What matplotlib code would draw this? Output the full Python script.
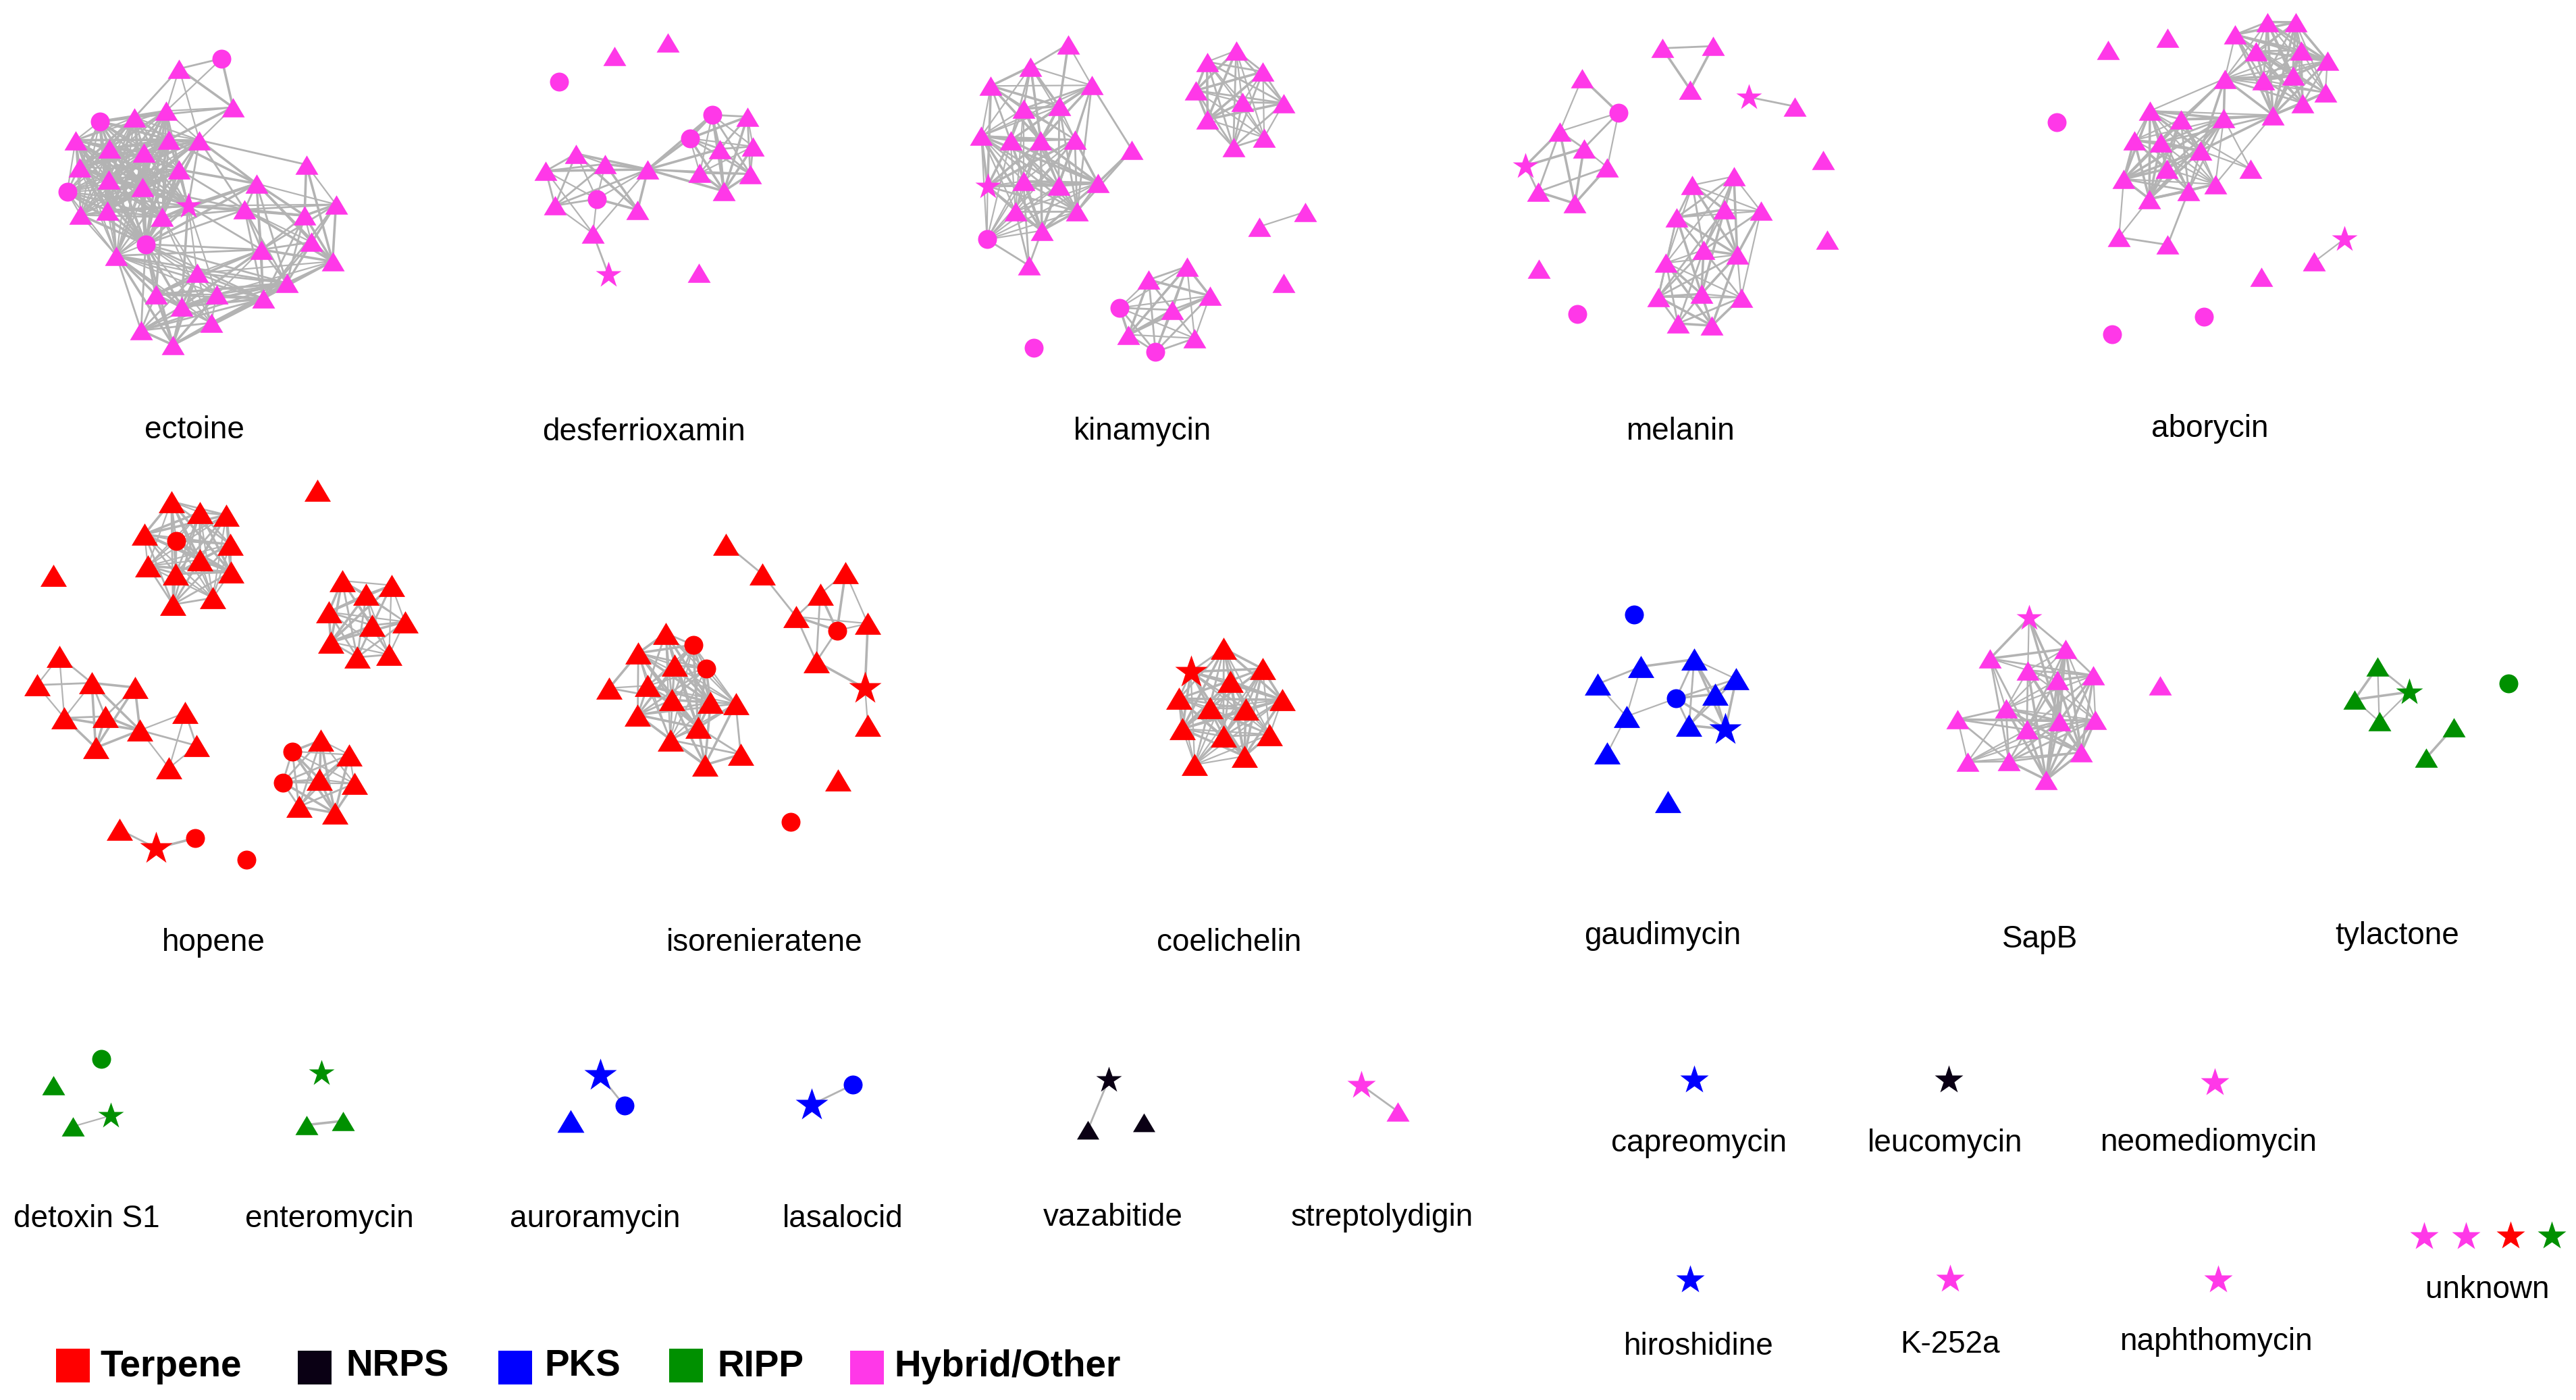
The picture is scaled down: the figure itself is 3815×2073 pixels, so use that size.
#!/usr/bin/env python3
# -*- coding: utf-8 -*-
import itertools
import numpy as np
import matplotlib
matplotlib.use('Agg')
import matplotlib.pyplot as plt
from matplotlib.collections import LineCollection
from matplotlib.patches import Rectangle

plt.rcParams['font.family'] = ['Liberation Sans', 'DejaVu Sans']

PINK = '#ff38e8'
RED = '#ff0000'
BLUE = '#0000ff'
GREEN = '#009000'
DARK = '#0a0014'
GREY = '#b3b3b3'

crop_a = (0, 0, 1.206, 2.24)
crop_b = (1300, 0, 1.206, 2.24)
crop_c = (2600, 0, 1.2895, 2.24)
crop_d = (0, 680, 1.206, 2.24)
crop_e = (1300, 680, 1.206, 2.24)
crop_f = (2600, 680, 1.2895, 2.24)
crop_g = (0, 1450, 1.206, 2.517)
crop_h = (1300, 1450, 1.206, 2.517)
crop_i = (2600, 1450, 1.2895, 2.517)

# ---- first row
ectoine_x = [396, 320, 416, 297, 240, 178, 135, 195, 302, 356, 257, 142, 320, 194, 254, 120, 336, 192, 144, 290,
             260, 208, 547, 458, 600, 437, 544, 556, 467, 594, 352, 512, 278, 387, 470, 324, 377, 252, 309]
ectoine_y = [194, 228, 356, 368, 390, 403, 465, 492, 463, 465, 506, 555, 563, 596, 620, 637, 683, 698, 713, 720,
             810, 848, 546, 609, 678, 695, 715, 803, 828, 867, 906, 939, 977, 977, 991, 1017, 1071, 1096, 1144]
ectoine_m = 'o^^^^o^^^^^^^^^o*^^^o^^^^^^^^^^^^^^^^^^'[:39]
ectoine_groups = [list(range(3, 22)), [23, 24, 25, 26, 27, 28, 29, 31, 34], [20, 21, 30, 32, 33, 34, 35, 36, 37, 38, 31]]
ectoine_links = [(0, 1), (0, 3), (0, 2), (1, 4), (1, 2), (1, 3), (1, 9), (2, 3), (2, 4), (2, 9), (2, 8), (9, 22),
                 (22, 26), (22, 24), (22, 29), (9, 23), (9, 25), (12, 23), (12, 25), (16, 23), (16, 25), (19, 23),
                 (19, 25), (20, 23), (20, 25), (20, 28), (8, 23), (14, 25), (16, 26), (16, 28), (16, 24), (16, 30),
                 (19, 30), (16, 33), (19, 32), (28, 30), (28, 33), (28, 34), (28, 32), (28, 35), (30, 29), (33, 29),
                 (21, 28), (21, 34), (21, 31), (35, 31), (36, 29), (38, 31), (32, 31), (30, 34), (16, 35), (19, 36)]

desferrioxamin_x = [1193, 1097, 998, 1272, 1335, 1232, 1345, 1286, 1029, 1081, 975, 1157, 1250, 1340, 1293, 1066, 991, 1139, 1059, 1087, 1248]
desferrioxamin_y = [141, 186, 270, 381, 387, 459, 486, 494, 510, 544, 567, 562, 574, 577, 634, 660, 682, 696, 774, 912, 905]
desferrioxamin_m = '^^oo^o^^^^^^^^^o^^^*^'
desferrioxamin_groups = [[3, 4, 5, 6, 7, 12, 13, 14]]
desferrioxamin_links = [(8, 9), (8, 10), (8, 11), (8, 15), (8, 16), (8, 17), (9, 10), (9, 11), (9, 15), (9, 16), (9, 17),
                        (10, 11), (10, 15), (10, 16), (10, 18), (11, 15), (11, 16), (11, 17), (11, 18), (15, 16),
                        (15, 17), (15, 18), (16, 18), (11, 5), (11, 3), (11, 7), (11, 12), (11, 13), (11, 14), (18, 19)]

kinamycin_x = [340, 273, 202, 382, 260, 324, 185, 237, 291, 352, 454, 196, 260, 323, 393, 246, 356, 293, 195, 270,
               588, 640, 688, 568, 651, 725, 589, 690, 635, 681, 763, 725, 278, 552, 484, 593, 432, 526, 448, 566, 496]
kinamycin_y = [147, 221, 285, 283, 361, 352, 451, 466, 466, 463, 497, 618, 601, 616, 607, 701, 701, 765, 794, 881,
               205, 168, 238, 300, 339, 342, 396, 456, 488, 752, 703, 938, 1153, 884, 928, 981, 1021, 1028, 1110, 1122, 1167]
kinamycin_m = '^^^^^^^^^^^*^^^^^^o^^^^^^^^^^^^^o^^^o^^^o'
kinamycin_groups = [[1, 2, 3, 4, 5, 6, 7, 8, 9], [6, 7, 8, 9, 11, 12, 13, 14, 15, 16, 17, 18], list(range(20, 29)), list(range(33, 41))]
kinamycin_links = [(0, 1), (0, 3), (0, 5), (3, 10), (10, 14), (10, 16), (19, 18), (19, 15), (19, 17), (19, 12), (29, 30),
                   (4, 12), (5, 12), (4, 13), (5, 13), (3, 9), (3, 13), (3, 16), (5, 16), (4, 15), (2, 11), (9, 14)]

melanin_x = [1401, 1492, 1451, 1556, 1638, 1688, 1696, 1258, 1323, 1218, 1261, 1157, 1303, 1179, 1245, 1181, 1249,
             1455, 1529, 1427, 1512, 1577, 1475, 1535, 1408, 1394, 1471, 1542, 1429, 1490]
melanin_y = [160, 153, 297, 322, 353, 532, 795, 259, 374, 436, 492, 550, 555, 636, 675, 892, 1041,
             614, 585, 721, 695, 700, 829, 845, 872, 985, 975, 987, 1073, 1080]
melanin_m = '^^^*^^^^o^^*^^^^o^^^^^^^^^^^^^'
melanin_groups = [[0, 1, 2], [17, 18, 19, 20, 21, 22, 23], [19, 22, 23, 24, 25, 26, 27], [24, 25, 26, 27, 28, 29]]
melanin_links = [(3, 4), (7, 8), (7, 9), (8, 9), (8, 10), (8, 12), (9, 11), (9, 10), (9, 13), (9, 14), (10, 11),
                 (10, 12), (10, 14), (11, 13), (12, 13), (12, 14), (13, 14), (17, 24), (18, 24), (20, 25), (20, 26),
                 (21, 27), (22, 28), (23, 29)]

aborycin_x = [673, 787, 575, 916, 977, 1031, 956, 1042, 1092, 896, 970, 1026, 1088, 1045, 988,
              753, 812, 894, 723, 774, 850, 945, 785, 703, 878, 827, 752, 694, 787, 1125, 1067, 966, 856, 681]
aborycin_y = [165, 125, 406, 115, 73, 74, 170, 167, 202, 261, 266, 251, 307, 342, 382,
              368, 396, 393, 465, 472, 500, 560, 560, 594, 611, 633, 660, 787, 812, 792, 868, 918, 1051, 1108]
aborycin_m = '^^o^^^^^^^^^^^^^^^^^^^^^^^^^^*^^oo'
aborycin_groups = [list(range(3, 15)), [15, 16, 17, 18, 19, 20, 22, 23, 24, 25, 26]]
aborycin_links = [(9, 15), (9, 16), (9, 17), (9, 19), (9, 20), (14, 15), (14, 16), (14, 17), (14, 19), (14, 20),
                  (14, 24), (17, 21), (20, 21), (15, 21), (23, 27), (26, 27), (27, 28), (25, 28), (29, 30)]

# ---- second row
hopene_x = [567, 95, 306, 357, 404, 258, 315, 411, 357, 264, 314, 412, 380, 309,
            611, 699, 654, 587, 723, 665, 591, 695, 638,
            106, 66, 164, 241, 115, 188, 250, 331, 351, 171, 302,
            522, 573, 624, 505, 571, 633, 534, 598, 213, 279, 348, 440]
hopene_y = [104, 386, 140, 176, 185, 249, 270, 282, 334, 354, 380, 374, 460, 482,
            403, 418, 449, 507, 539, 551, 606, 648, 657,
            654, 749, 742, 757, 858, 853, 899, 841, 950, 957, 1024,
            969, 932, 980, 1072, 1062, 1076, 1152, 1173, 1228, 1290, 1257, 1329]
hopene_m = '^^^^^^o^^^^^^^' + '^^^^^^^^^' + '^^^^^^^^^^^' + 'o^^o^^^^' + '^*oo'
hopene_groups = [list(range(2, 14)), list(range(14, 23)), list(range(34, 42))]
hopene_links = [(23, 24), (23, 25), (23, 27), (24, 25), (24, 27), (25, 26), (25, 27), (25, 28), (25, 29), (26, 28),
                (26, 29), (27, 28), (27, 29), (27, 32), (28, 29), (28, 32), (25, 32), (29, 32), (29, 30), (29, 31),
                (29, 33), (30, 31), (30, 33), (31, 33), (26, 32), (42, 43), (43, 44)]

isorenieratene_x = [1297, 1361, 1510, 1465, 1422, 1495, 1550, 1458, 1545, 1550, 1497, 1412,
                    1189, 1238, 1140, 1205, 1261, 1088, 1157, 1200, 1269, 1314, 1139, 1247, 1197, 1323, 1259]
isorenieratene_y = [282, 380, 376, 447, 522, 568, 545, 671, 760, 882, 1065, 1203,
                    577, 616, 643, 683, 694, 759, 751, 798, 807, 811, 848, 890, 931, 979, 1014]
isorenieratene_m = '^^^^^o^^*^^o' + '^o^^o^^^^^^^^^^^^'[:15]
isorenieratene_groups = [[12, 13, 14, 15, 16, 18, 19, 20, 21, 22, 23, 24]]
isorenieratene_links = [(0, 1), (1, 4), (2, 3), (2, 5), (2, 6), (3, 4), (3, 5), (3, 7), (4, 5), (4, 6), (4, 7), (5, 6),
                        (5, 7), (6, 8), (7, 8), (8, 9), (17, 14), (17, 18), (17, 19), (25, 21), (25, 23), (25, 24),
                        (25, 26), (26, 24), (26, 23), (26, 22), (26, 19), (26, 20), (26, 21)]

coelichelin_x = [618, 559, 687, 630, 538, 722, 593, 657, 544, 700, 617, 655, 566]
coelichelin_y = [628, 705, 695, 736, 794, 798, 825, 828, 894, 913, 919, 985, 1013]
coelichelin_m = '^*^^^^^^^^^^^'
coelichelin_groups = [list(range(13))]
coelichelin_links = []

gaudimycin_x = [1285, 1363, 1458, 1533, 1426, 1495, 1337, 1449, 1514, 1303, 1411, 1351]
gaudimycin_y = [746, 688, 664, 729, 793, 779, 853, 883, 895, 975, 1135, 516]
gaudimycin_m = '^^^^o^^^*^^o'
gaudimycin_groups = [[2, 3, 4, 5, 7, 8]]
gaudimycin_links = [(0, 1), (1, 2), (0, 6), (1, 6), (6, 4), (6, 9)]

sapb_x = [522, 592, 448, 520, 645, 576, 478, 386, 580, 649, 518, 622, 405, 484, 555, 772]
sapb_y = [527, 629, 661, 700, 717, 733, 827, 863, 868, 865, 897, 972, 1004, 1002, 1063, 751]
sapb_m = '*^^^^^^^^^^^^^^^'
sapb_groups = [[1, 3, 4, 5, 6, 8, 9, 10, 11, 14], [6, 8, 9, 10, 11, 13, 14]]
sapb_links = [(0, 1), (0, 2), (0, 3), (0, 5), (0, 8), (1, 2), (2, 3), (2, 4), (2, 6), (2, 10), (2, 13), (7, 6), (7, 10),
              (7, 9), (7, 8), (7, 12), (7, 13), (12, 6), (12, 10), (12, 8), (12, 9), (12, 11), (12, 13)]

tylactone_x = [1188, 1248, 1144, 1191, 1333, 1281, 1438]
tylactone_y = [688, 772, 797, 870, 889, 990, 743]
tylactone_m = '^*^^^^o'
tylactone_groups = [[0, 1, 2, 3]]
tylactone_links = [(4, 5)]

# ---- third row
detoxin_x = [181, 95, 198, 130]
detoxin_y = [298, 395, 508, 549]
detoxin_m = 'o^*^'
detoxin_links = [(2, 3)]

enteromycin_x = [574, 547, 613]
enteromycin_y = [349, 543, 528]
enteromycin_m = '*^^'
enteromycin_links = [(1, 2)]

auroramycin_x = [1072, 1115, 1019]
auroramycin_y = [358, 471, 528]
auroramycin_m = '*o^'
auroramycin_links = [(0, 1)]

lasalocid_x = [1450, 1523]
lasalocid_y = [467, 393]
lasalocid_m = '*o'
lasalocid_links = [(0, 1)]

vazabitide_x = [412, 375, 475]
vazabitide_y = [375, 562, 534]
vazabitide_m = '*^^'
vazabitide_links = [(0, 1)]

streptolydigin_x = [864, 929]
streptolydigin_y = [395, 493]
streptolydigin_m = '*^'
streptolydigin_links = [(0, 1)]

# crop, x, y, marks, cliques, single links, colour, triangle size px, star size px
networks = [
    (crop_a, ectoine_x, ectoine_y, ectoine_m, ectoine_groups, ectoine_links, PINK, 34, 41),
    (crop_a, desferrioxamin_x, desferrioxamin_y, desferrioxamin_m, desferrioxamin_groups, desferrioxamin_links, PINK, 34, 41),
    (crop_b, kinamycin_x, kinamycin_y, kinamycin_m, kinamycin_groups, kinamycin_links, PINK, 34, 41),
    (crop_b, melanin_x, melanin_y, melanin_m, melanin_groups, melanin_links, PINK, 34, 41),
    (crop_c, aborycin_x, aborycin_y, aborycin_m, aborycin_groups, aborycin_links, PINK, 34, 41),
    (crop_d, hopene_x, hopene_y, hopene_m, hopene_groups, hopene_links, RED, 39, 51),
    (crop_d, isorenieratene_x, isorenieratene_y, isorenieratene_m, isorenieratene_groups, isorenieratene_links, RED, 39, 51),
    (crop_e, coelichelin_x, coelichelin_y, coelichelin_m, coelichelin_groups, coelichelin_links, RED, 39, 51),
    (crop_e, gaudimycin_x, gaudimycin_y, gaudimycin_m, gaudimycin_groups, gaudimycin_links, BLUE, 39, 51),
    (crop_f, sapb_x, sapb_y, sapb_m, sapb_groups, sapb_links, PINK, 34, 41),
    (crop_f, tylactone_x, tylactone_y, tylactone_m, tylactone_groups, tylactone_links, GREEN, 34, 42),
    (crop_g, detoxin_x, detoxin_y, detoxin_m, [], detoxin_links, GREEN, 34, 41),
    (crop_g, enteromycin_x, enteromycin_y, enteromycin_m, [], enteromycin_links, GREEN, 34, 41),
    (crop_g, auroramycin_x, auroramycin_y, auroramycin_m, [], auroramycin_links, BLUE, 40, 51),
    (crop_g, lasalocid_x, lasalocid_y, lasalocid_m, [], lasalocid_links, BLUE, 40, 51),
    (crop_h, vazabitide_x, vazabitide_y, vazabitide_m, [], vazabitide_links, DARK, 33, 41),
    (crop_h, streptolydigin_x, streptolydigin_y, streptolydigin_m, [], streptolydigin_links, PINK, 34, 44),
]

# lone stars: crop, x, y, colour
single_stars = [
    (crop_h, 1458, 375, BLUE), (crop_h, 1451, 1119, BLUE),
    (crop_i, 369, 374, DARK), (crop_i, 877, 384, PINK),
    (crop_i, 372, 1118, PINK), (crop_i, 883, 1119, PINK),
    (crop_i, 1277, 958, PINK), (crop_i, 1357, 958, PINK),
    (crop_i, 1442, 957, RED), (crop_i, 1520, 957, GREEN),
]

label_names = ['ectoine', 'desferrioxamin', 'kinamycin', 'melanin', 'aborycin',
               'hopene', 'isorenieratene', 'coelichelin', 'gaudimycin', 'SapB', 'tylactone',
               'detoxin S1', 'enteromycin', 'auroramycin', 'lasalocid', 'vazabitide', 'streptolydigin',
               'capreomycin', 'leucomycin', 'neomediomycin',
               'hiroshidine', 'K-252a', 'naphthomycin', 'unknown']
label_x = [288, 954, 1692, 2488, 3273,
           316, 1132, 1820, 2462, 3021, 3550,
           128, 488, 881, 1248, 1648, 2047,
           2516, 2881, 3271,
           2516, 2888, 3282, 3684]
label_y = [649, 652, 651, 651, 647,
           1408, 1408, 1408, 1398, 1403, 1398,
           1817, 1817, 1817, 1817, 1815, 1815,
           1705, 1705, 1704,
           2006, 2003, 1999, 1922]

legend_names = ['Terpene', 'NRPS', 'PKS', 'RIPP', 'Hybrid/Other']
legend_colors = [RED, DARK, BLUE, GREEN, PINK]
legend_box_x = [83, 441, 738, 991, 1259]
legend_box_y = [1997, 2000, 2000, 1997, 2000]
legend_text_x = [148, 512, 806, 1062, 1324]

TRIANGLE = [(-1, -0.84), (1, -0.84), (0, 0.84)]
widths = [2.2, 2.8, 3.6]


def to_px(crop, x, y):
    return crop[0] + np.asarray(x, float) / crop[2], crop[1] + np.asarray(y, float) / crop[3]


fig = plt.figure(figsize=(38.16, 20.73), dpi=100)
ax = fig.add_axes([0, 0, 1, 1])
ax.set_xlim(0, 3816)
ax.set_ylim(2073, 0)
ax.axis('off')

for crop, x, y, marks, groups, links, color, tri, star in networks:
    px, py = to_px(crop, x, y)
    pairs = set(tuple(sorted(p)) for p in links)
    for g in groups:
        pairs.update(itertools.combinations(g, 2))
    pairs = sorted(pairs)
    segs = [[(px[a], py[a]), (px[b], py[b])] for a, b in pairs]
    lw = [widths[(3 * a + b) % 3] * 0.72 for a, b in pairs]
    ax.add_collection(LineCollection(segs, colors=GREY, linewidths=lw, zorder=1))
    for m, marker, size in [('^', TRIANGLE, tri), ('o', 'o', 28), ('*', '*', star)]:
        idx = [i for i, c in enumerate(marks) if c == m]
        ax.plot(px[idx], py[idx], linestyle='none', marker=marker, ms=size * 0.72, mfc=color, mec='none', zorder=2)

for crop, x, y, color in single_stars:
    px, py = to_px(crop, x, y)
    ax.plot(px, py, linestyle='none', marker='*', ms=45 * 0.72, mfc=color, mec='none', zorder=2)

for name, x, y in zip(label_names, label_x, label_y):
    ax.text(x, y, name, fontsize=33, ha='center', va='baseline', color='k')

for i, name in enumerate(legend_names):
    ax.add_patch(Rectangle((legend_box_x[i], legend_box_y[i]), 50, 50, fc=legend_colors[i], ec='none'))
    ax.text(legend_text_x[i], 2038, name, fontsize=39.5, fontweight='bold', ha='left', va='baseline', color='k')

fig.savefig('out.png', dpi=100, facecolor='white')
